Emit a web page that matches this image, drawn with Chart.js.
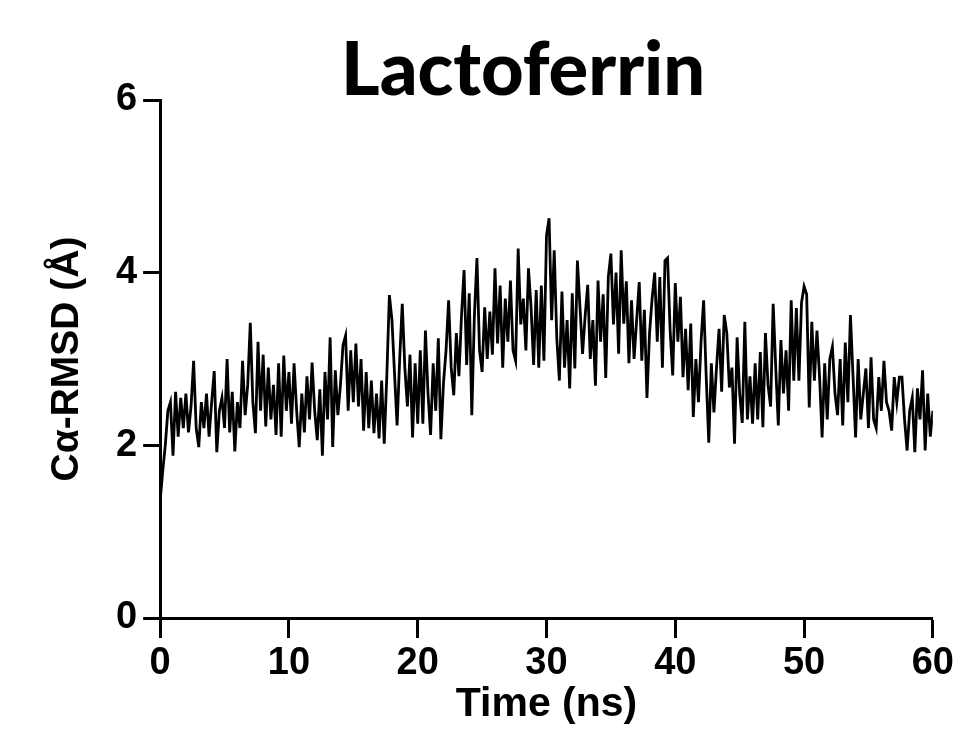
<!DOCTYPE html>
<html lang="en">
<head>
    <meta charset="UTF-8">
    <title>Lactoferrin RMSD</title>
    <script src="https://cdn.jsdelivr.net/npm/chart.js"></script>
    <style>
        html, body {
            margin: 0;
            padding: 0;
            background: #fff;
        }
        .chart-box {
            width: 961px;
            height: 755px;
        }
    </style>
</head>
<body>
    <div class="chart-box">
        <canvas id="rmsdChart"></canvas>
    </div>

    <script>
        // Cα-RMSD (Å), one value every 0.2 ns from 0 to 60 ns
        const rmsd = [
            1.35, 1.70, 2.00, 2.40, 2.50,   1.88, 2.62, 2.10, 2.55, 2.20,
            2.60, 2.15, 2.45, 2.98, 2.20,   1.98, 2.50, 2.20, 2.60, 2.10,
            2.50, 2.86, 1.92, 2.40, 2.55,   2.20, 3.00, 2.15, 2.62, 1.93,
            2.50, 2.20, 2.98, 2.35, 2.70,   3.42, 2.50, 2.14, 3.20, 2.40,
            3.05, 2.22, 2.90, 2.30, 2.70,   2.12, 2.95, 2.10, 3.04, 2.40,
            2.85, 2.25, 2.95, 2.40, 1.98,   2.60, 2.15, 2.80, 2.30, 2.96,
            2.40, 2.06, 2.65, 1.88, 2.85,   2.30, 3.25, 1.98, 2.87, 2.35,
            2.70, 3.16, 3.27, 2.40, 3.10,   2.50, 3.18, 2.45, 3.00, 2.17,
            2.85, 2.20, 2.75, 2.14, 2.60,   2.08, 2.75, 2.02, 2.80, 3.74,
            3.45, 2.83, 2.23, 3.00, 3.64,   2.90, 2.45, 3.05, 2.09, 2.95,
            2.25, 3.10, 2.25, 3.33, 2.60,   2.12, 2.95, 2.40, 3.24, 2.07,
            2.72, 3.10, 3.68, 2.90, 2.58,   3.30, 2.80, 3.50, 4.03, 2.93,
            3.76, 2.35, 3.50, 4.17, 3.10,   2.85, 3.60, 3.00, 3.55, 3.05,
            4.05, 3.18, 3.85, 2.90, 3.70,   3.20, 3.91, 3.10, 2.98, 4.28,
            3.40, 3.70, 3.10, 4.05, 3.60,   2.93, 3.80, 2.90, 3.85, 2.98,
            4.43, 4.63, 3.45, 4.26, 3.24,   2.75, 3.78, 2.90, 3.45, 2.66,
            3.76, 2.89, 4.14, 3.60, 3.06,   3.50, 3.86, 3.00, 3.45, 2.69,
            3.91, 3.20, 3.75, 2.78, 3.95,   4.22, 3.40, 4.00, 3.06, 4.26,
            3.41, 3.90, 2.95, 3.68, 3.00,   3.45, 3.89, 2.98, 3.57, 2.55,
            3.30, 3.70, 4.00, 3.20, 3.95,   2.90, 4.14, 4.17, 3.33, 2.81,
            3.88, 3.20, 3.72, 2.79, 3.35,   2.64, 3.41, 2.33, 3.00, 2.50,
            3.20, 3.68, 2.80, 2.03, 2.95,   2.38, 2.90, 3.35, 2.62, 3.51,
            3.30, 2.67, 2.90, 2.02, 3.25,   2.60, 2.26, 3.43, 2.30, 2.80,
            2.25, 2.95, 2.30, 3.08, 2.21,   3.30, 2.70, 2.45, 3.64, 2.90,
            2.23, 3.22, 2.60, 3.10, 2.40,   3.68, 2.75, 3.59, 2.75, 3.65,
            3.84, 3.75, 2.44, 3.43, 2.75,   3.33, 2.80, 2.09, 2.95, 2.30,
            3.00, 3.14, 2.60, 2.35, 3.00,   2.23, 3.19, 2.50, 3.51, 2.80,
            2.09, 3.00, 2.30, 2.60, 2.89,   2.20, 3.02, 2.30, 2.20, 2.79,
            2.40, 2.98, 2.50, 2.40, 2.17,   2.79, 2.50, 2.79, 2.79, 2.30,
            1.94, 2.40, 2.55, 1.92, 2.66,   2.30, 2.87, 1.94, 2.60, 2.10,
            2.40
        ];
        const timeStep = 0.2;
        const times = rmsd.map((_, i) => +(i * timeStep).toFixed(1));

        const xTicks = [0, 10, 20, 30, 40, 50, 60];
        const yTicks = [0, 2, 4, 6];

        const chartTitle = 'Lactoferrin';
        const xTitle = 'Time (ns)';
        const yTitle = 'Cα-RMSD (Å)';

        const sans = "'Liberation Sans', Arial, sans-serif";
        const tickFont = { family: sans, weight: 'bold', size: 38, lineHeight: 1.0 };
        const xTitleFont = { family: sans, weight: 'bold', size: 41, lineHeight: 1.0 };
        const yTitleFont = { family: sans, weight: 'bold', size: 39, lineHeight: 1.0 };

        // big title, drawn a little left of the plot centre like the original
        const bigTitle = {
            id: 'bigTitle',
            afterDraw(chart) {
                const { ctx, chartArea } = chart;
                ctx.save();
                ctx.fillStyle = '#000';
                ctx.font = "900 74px Lato, 'Open Sans', sans-serif";
                ctx.textAlign = 'center';
                ctx.textBaseline = 'alphabetic';
                ctx.fillText(chartTitle, chartArea.left + 363, chartArea.top - 5);
                ctx.restore();
            }
        };

        const ctx = document.getElementById('rmsdChart').getContext('2d');
        new Chart(ctx, {
            type: 'line',
            data: {
                datasets: [{
                    data: times.map((t, i) => ({ x: t, y: rmsd[i] })),
                    borderColor: '#000',
                    borderWidth: 2.8,
                    pointRadius: 0,
                    tension: 0,
                    fill: false
                }]
            },
            options: {
                responsive: true,
                maintainAspectRatio: false,
                animation: false,
                layout: {
                    padding: { top: 100, right: 19, bottom: 10, left: 0 }
                },
                plugins: {
                    legend: { display: false },
                    title: { display: false },
                    tooltip: { enabled: false }
                },
                scales: {
                    x: {
                        type: 'linear',
                        min: 0,
                        max: 60,
                        afterBuildTicks: (axis) => { axis.ticks = xTicks.map(v => ({ value: v })); },
                        border: { display: true, color: '#000', width: 3 },
                        grid: { drawOnChartArea: false, drawTicks: true, tickLength: 20, tickWidth: 3, tickColor: '#000' },
                        ticks: { color: '#000', font: tickFont, padding: 7, maxRotation: 0 },
                        title: { display: true, text: xTitle, color: '#000', font: xTitleFont, padding: { top: -6, bottom: 20 } }
                    },
                    y: {
                        type: 'linear',
                        min: 0,
                        max: 6,
                        afterBuildTicks: (axis) => { axis.ticks = yTicks.map(v => ({ value: v })); },
                        border: { display: true, color: '#000', width: 3 },
                        grid: { drawOnChartArea: false, drawTicks: true, tickLength: 17, tickWidth: 3, tickColor: '#000' },
                        ticks: { color: '#000', font: tickFont, padding: 6 },
                        title: { display: true, text: yTitle, color: '#000', font: yTitleFont, padding: { top: 48, bottom: 23 } }
                    }
                }
            },
            plugins: [bigTitle]
        });
    </script>
</body>
</html>
